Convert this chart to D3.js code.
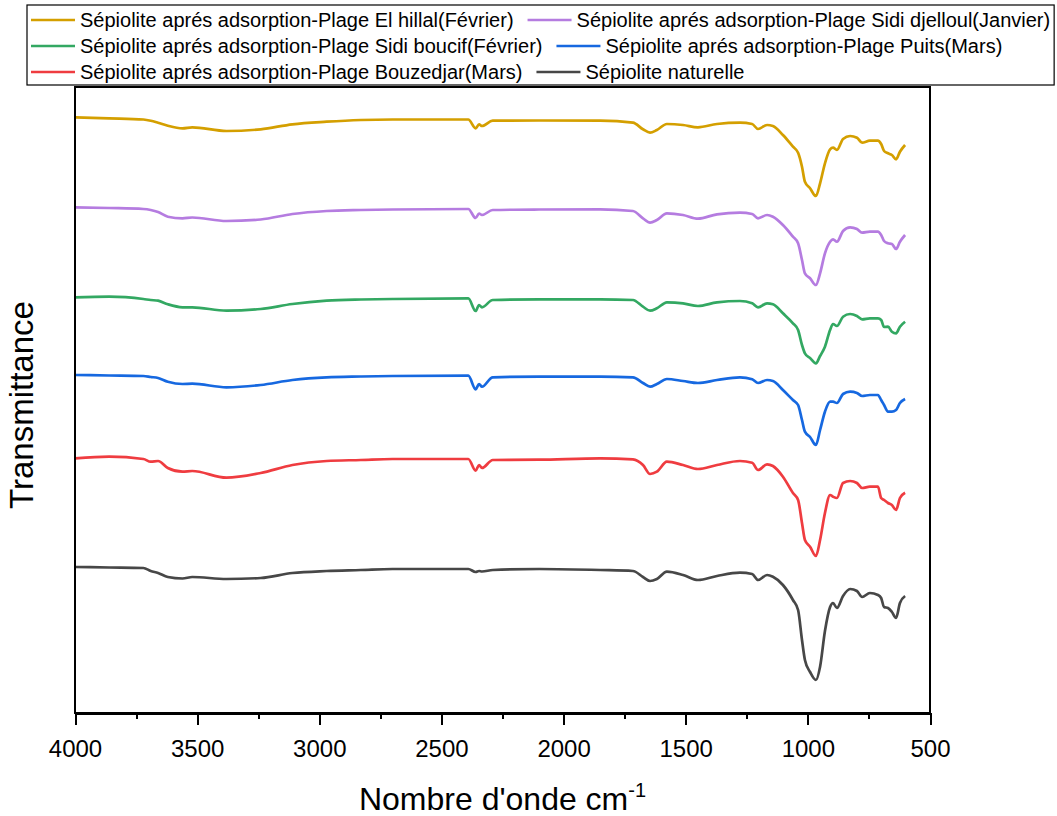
<!DOCTYPE html>
<html lang="fr">
<head>
<meta charset="utf-8">
<title>FTIR Sépiolite</title>
<script src="https://cdn.jsdelivr.net/npm/d3@7"></script>
<style>
	body { margin: 0; background: #fff; }
	text { font-family: Arial, "Liberation Sans", sans-serif; fill: #000; }
	.axis path, .axis line { stroke: #000; stroke-width: 2; shape-rendering: crispEdges; }
	.axis text { font-size: 24px; }
	.frame { fill: none; stroke: #000; stroke-width: 2; shape-rendering: crispEdges; }
	.spectre { fill: none; stroke-width: 2.7; stroke-linejoin: round; }
</style>
</head>
<body>
<div id="viz"></div>
<script>

// Nombre d'onde (cm-1)
var nombreOnde = [4000, 3860, 3720, 3690, 3660, 3620, 3560, 3520, 3380, 3240,
	3110, 2970, 2830, 2700, 2390, 2360, 2346, 2334, 2290, 2100,
	1850, 1716, 1675, 1646, 1618, 1577, 1511, 1450, 1372, 1278,
	1228, 1204, 1167, 1143, 1102, 1061, 1040, 1024, 1012, 991,
	967, 950, 930, 909, 897, 881, 856, 827, 799, 778,
	746, 713, 700, 688, 672, 656, 639, 623, 602];

// Transmittance (u.a., courbes décalées)
var elHillal = [595.7, 594.7, 593.5, 592.3, 590.3, 587.3, 584.7, 585.7, 582, 583.7,
	588.7, 591.3, 593, 593.5, 593.5, 584.7, 588.7, 587, 592.3, 592.5,
	592.3, 590.3, 583.7, 580.3, 583, 589, 588, 585.7, 589, 590.3,
	589, 584, 588, 587, 578, 566.3, 560.3, 546.3, 531.3, 524.7,
	517, 529.7, 549.7, 563.7, 565.3, 563, 574, 577, 575.3, 570.3,
	572.3, 572.3, 569, 562, 559.7, 558, 553.7, 561.3, 568];

var sidiDjelloul = [505.7, 505, 504, 503, 501, 496.3, 494.7, 495.5, 492, 493.5,
	499, 502, 503, 503.5, 504, 495, 499.5, 498, 503, 503.5,
	503.7, 502, 494.7, 490.3, 493, 499.7, 498, 494.3, 498.7, 500.3,
	499, 494.7, 498, 496.3, 488, 476.3, 469.7, 453, 439.7, 434.7,
	428, 439.7, 459.7, 471.3, 473.7, 471.3, 482, 485.7, 484, 480.3,
	481.3, 481.3, 478, 472, 469.7, 469, 464, 471.3, 478];

var sidiBoucif = [415.7, 416.3, 414, 413, 412.3, 408.7, 405.7, 405.7, 402.3, 404,
	409, 412.3, 413.5, 414, 414.7, 402, 408, 405.7, 413, 413.7,
	413.7, 413, 406.3, 402.3, 404.7, 410.7, 409.7, 407, 410.7, 412,
	409.7, 405.7, 409.7, 408.7, 399.7, 389.7, 383, 368, 359.7, 355,
	349.7, 357, 366.3, 383, 389, 387, 396.3, 399, 397, 393.7,
	394.7, 394.7, 393, 386, 386.3, 381.3, 379.7, 386.3, 391.3];

var puits = [338, 337.5, 337, 336, 335, 331.3, 329, 329.3, 325.7, 328,
	333, 335.7, 336.5, 337, 337.3, 323.7, 329, 326.3, 335.7, 336.3,
	336.3, 335.7, 330, 326.3, 329, 334, 332, 330, 333, 335.7,
	333.7, 330, 333, 332, 323, 313, 308, 293, 281.3, 276,
	268, 283, 301.3, 311.3, 311.3, 310, 319, 321.3, 320, 317,
	318, 318, 313, 308, 301.3, 301.3, 303, 310, 314];

var bouzedjar = [254.7, 256.3, 254, 251.3, 252, 245, 241.3, 242, 235.3, 240,
	248, 252, 253, 254, 254, 242.3, 248, 245, 253, 253.3,
	254.7, 253.7, 248, 239, 241.3, 251.3, 248, 244, 248, 252,
	250.3, 243, 248.7, 247, 236.3, 220, 213, 190, 173, 166.3,
	157, 173, 200, 218, 216.3, 215, 230, 232, 230, 225,
	226.3, 226.3, 215, 213, 210, 208, 203, 215, 220.3];

var naturelle = [146, 145.5, 145, 142, 140, 136, 134.5, 136, 134, 135,
	140, 142, 143, 144, 144, 141, 142, 141.5, 143, 144,
	143, 142, 136, 132, 134, 141.3, 138, 133, 137, 140.3,
	139, 133, 138, 136.3, 128, 113, 103, 73, 53, 41,
	33, 46.3, 82, 106, 110, 105, 117, 124, 122, 116,
	120, 118, 115, 106, 105, 101, 95, 110, 117];

var noms = [
	"Sépiolite aprés adsorption-Plage El hillal(Février)",
	"Sépiolite aprés adsorption-Plage Sidi djelloul(Janvier)",
	"Sépiolite aprés adsorption-Plage Sidi boucif(Février)",
	"Sépiolite aprés adsorption-Plage Puits(Mars)",
	"Sépiolite aprés adsorption-Plage Bouzedjar(Mars)",
	"Sépiolite naturelle"
];
var couleurs = ["#d49f00", "#b57ce0", "#33a862", "#1668e0", "#ef3c40", "#474747"];
var xTicks = [4000, 3500, 3000, 2500, 2000, 1500, 1000, 500];
var xMinorTicks = [3750, 3250, 2750, 2250, 1750, 1250, 750];

(function(scope, d3) {

	var w = 1057, h = 816;
	var margin = {top: 87, right: 127, bottom: 103, left: 75};
	var width = w - margin.left - margin.right,
		height = h - margin.top - margin.bottom;

	var series = [elHillal, sidiDjelloul, sidiBoucif, puits, bouzedjar, naturelle];

	// SCALES
	var xScale = d3.scaleLinear()
		.domain([4000, 500])
		.range([0, width]);

	var yScale = d3.scaleLinear()
		.domain([0, 626])
		.range([height, 0]);

	// AXIS
	var xAxis = d3.axisBottom(xScale)
		.tickValues(xTicks)
		.tickSize(12)
		.tickPadding(15)
		.tickFormat(d3.format("d"));
	var xAxisMinor = d3.axisBottom(xScale).tickValues(xMinorTicks).tickSize(6).tickFormat("");

	var svg = d3.select("#viz")
		.append("svg")
		.attr("width", w)
		.attr("height", h);

	var g = svg.append("g")
		.attr("transform", "translate(" + margin.left + "," + margin.top + ")");

	// Draw the lines
	var line = d3.line()
		.x(function(d, i) { return xScale(nombreOnde[i]); })
		.y(function(d) { return yScale(d); })
		.curve(d3.curveMonotoneX);

	g.selectAll("path.spectre")
		.data(series)
		.enter()
		.append("path")
		.attr("class", "spectre")
		.attr("d", line)
		.style("stroke", function(d, i) { return couleurs[i]; });

	// Frame + axis
	g.append("rect")
		.attr("class", "frame")
		.attr("x", 0)
		.attr("y", 0)
		.attr("width", width)
		.attr("height", height);

	g.append("g")
		.attr("class", "axis")
		.attr("transform", "translate(0," + height + ")")
		.call(xAxis);

	g.append("g")
		.attr("class", "axis")
		.attr("transform", "translate(0," + height + ")")
		.call(xAxisMinor)
		.select(".domain").remove();

	// Axis titles
	var xt = svg.append("text")
		.attr("x", margin.left + width / 2)
		.attr("y", 810)
		.attr("text-anchor", "middle")
		.style("font-size", "32px")
		.text("Nombre d'onde cm");
	xt.append("tspan")
		.attr("dy", -13)
		.style("font-size", "20px")
		.text("-1");

	svg.append("text")
		.attr("transform", "translate(33," + (margin.top + height / 2 + 5) + ") rotate(-90)")
		.attr("text-anchor", "middle")
		.style("font-size", "33px")
		.text("Transmittance");

	// Legend (flow layout, 2 per row)
	var leg = svg.append("g");
	var box = leg.append("rect")
		.attr("fill", "#fff")
		.attr("stroke", "#000")
		.attr("stroke-width", 1.2);

	var rowY = [27, 53, 79];
	var startX = 31, lineLen = 44, gap = 5, itemGap = 14;
	var maxRight = 0;
	for (var r = 0; r < 3; r++) {
		var cx = startX;
		for (var c = 0; c < 2; c++) {
			var k = r * 2 + c;
			leg.append("line")
				.attr("x1", cx).attr("x2", cx + lineLen)
				.attr("y1", rowY[r] - 7).attr("y2", rowY[r] - 7)
				.attr("stroke", couleurs[k])
				.attr("stroke-width", 2.7);
			var t = leg.append("text")
				.attr("x", cx + lineLen + gap)
				.attr("y", rowY[r])
				.style("font-size", "20px")
				.text(noms[k]);
			var tw = t.node().getComputedTextLength();
			cx = cx + lineLen + gap + tw + itemGap;
			maxRight = Math.max(maxRight, cx - itemGap);
		}
	}
	box.attr("x", 27).attr("y", 5)
		.attr("width", maxRight + 4 - 27)
		.attr("height", 80);

})(window, d3);

</script>
</body>
</html>
